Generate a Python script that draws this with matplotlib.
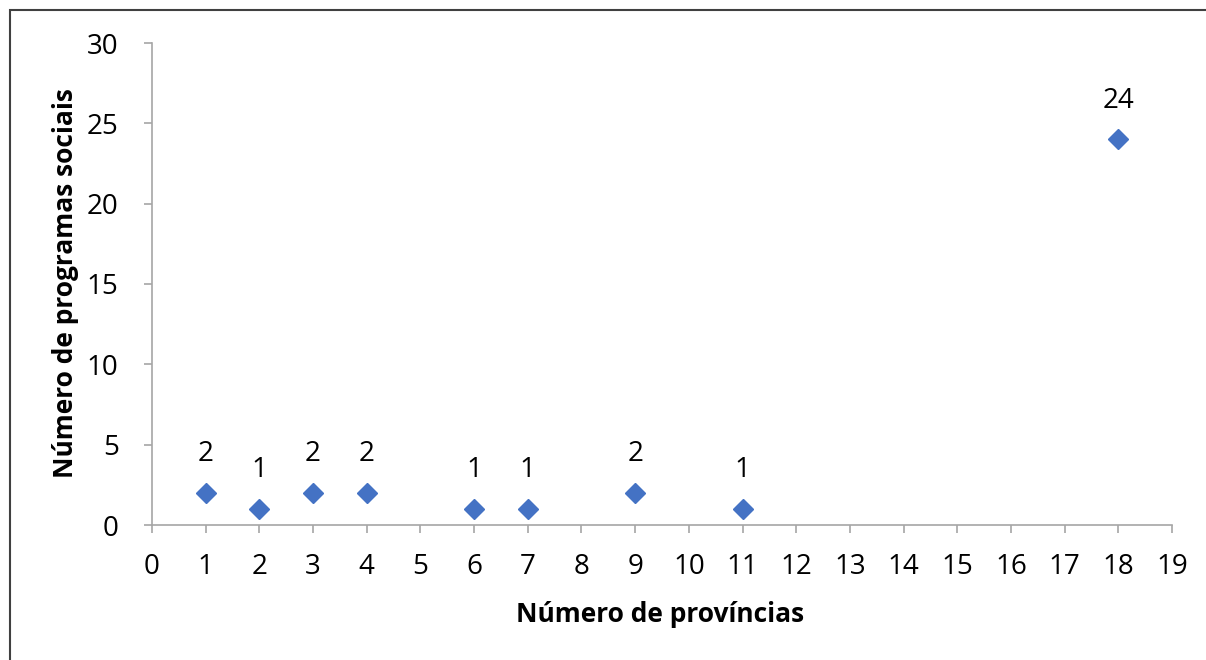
import matplotlib
matplotlib.use("Agg")
import matplotlib.pyplot as plt
from matplotlib.patches import Rectangle

provinces = [1, 2, 3, 4, 6, 7, 9, 11, 18]
programs = [2, 1, 2, 2, 1, 1, 2, 1, 24]
x_ticks = list(range(0, 20))
y_ticks = [0, 5, 10, 15, 20, 25, 30]

plt.rcParams['font.family'] = ['Open Sans', 'DejaVu Sans']

fig = plt.figure(figsize=(12.06, 6.6), dpi=100)
ax = fig.add_axes([152/1206, 1-525/660, (1172-152)/1206, (525-43)/660])

ax.plot(provinces, programs, linestyle='none', marker='D', markersize=10,
        color='#4472C4', markeredgecolor='#4472C4', clip_on=False, zorder=3)
for xv, yv in zip(provinces, programs):
    ax.annotate(str(yv), (xv, yv), xytext=(0, 28), textcoords='offset points',
                ha='center', va='center', fontsize=20, color='black')

ax.set_xlim(0, 19)
ax.set_ylim(0, 30)
ax.set_xticks(x_ticks)
ax.set_yticks(y_ticks)
ax.tick_params(axis='both', direction='out', length=6, width=1.2, color='#A6A6A6',
               labelsize=20)
ax.tick_params(axis='x', pad=14)
ax.tick_params(axis='y', pad=18)
for s in ['top', 'right']:
    ax.spines[s].set_visible(False)
for s in ['left', 'bottom']:
    ax.spines[s].set_color('#A6A6A6')
    ax.spines[s].set_linewidth(1.2)

fig.text(660/1206, 1-615/660, 'Número de províncias', ha='center', va='center',
         fontsize=19, fontweight='bold')
fig.text(66/1206, 1-283/660, 'Número de programas sociais', ha='center', va='center',
         rotation=90, fontsize=19, fontweight='bold')

fig.patches.append(Rectangle((10/1206, -0.1), 1.2, 1-10/660+0.1, transform=fig.transFigure,
                             fill=False, edgecolor='#404040', linewidth=1.5))

fig.savefig('out.png', dpi=100)
